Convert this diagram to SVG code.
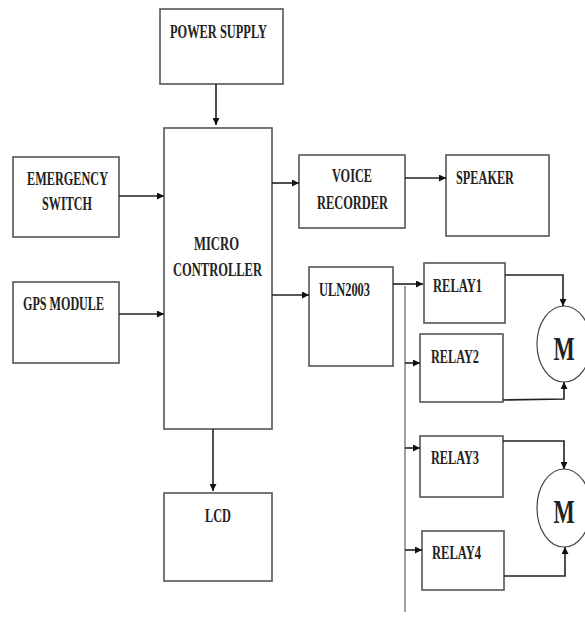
<svg xmlns="http://www.w3.org/2000/svg" width="585" height="617" viewBox="0 0 585 617">
<style>
.box{fill:#fff;stroke:#555;stroke-width:1.6}
.t{font-family:"Liberation Serif","Times New Roman",serif;font-weight:bold;font-size:18.5px;fill:#222}
.m{font-family:"Liberation Serif","Times New Roman",serif;font-weight:bold;font-size:34px;fill:#222}
.c{fill:none;stroke:#222;stroke-width:1.6}
.mot{fill:#fff;stroke:#444;stroke-width:1.2}
</style>
<defs>
<marker id="ah" viewBox="0 0 10 10" refX="10" refY="5" markerWidth="8" markerHeight="7" markerUnits="userSpaceOnUse" orient="auto">
<path d="M0,0 L10,5 L0,10 z" fill="#111"/>
</marker>
</defs>
<rect width="585" height="617" fill="#fff"/>
<g id="power-supply"><rect class="box" x="160" y="9" width="123" height="75"/><text class="t" x="170" y="38" textLength="97" lengthAdjust="spacingAndGlyphs">POWER SUPPLY</text></g>
<g id="emergency-switch"><rect class="box" x="13" y="157" width="106" height="80"/><text class="t" x="27" y="185" textLength="81" lengthAdjust="spacingAndGlyphs">EMERGENCY</text><text class="t" x="42" y="210" textLength="50" lengthAdjust="spacingAndGlyphs">SWITCH</text></g>
<g id="gps-module"><rect class="box" x="13" y="282" width="106" height="81"/><text class="t" x="23" y="310" textLength="81" lengthAdjust="spacingAndGlyphs">GPS MODULE</text></g>
<g id="micro-controller"><rect class="box" x="164" y="128" width="108" height="301"/><text class="t" x="194" y="250" textLength="45" lengthAdjust="spacingAndGlyphs">MICRO</text><text class="t" x="173" y="276" textLength="89" lengthAdjust="spacingAndGlyphs">CONTROLLER</text></g>
<g id="lcd"><rect class="box" x="164" y="493" width="108" height="88"/><text class="t" x="205" y="522" textLength="26" lengthAdjust="spacingAndGlyphs">LCD</text></g>
<g id="voice-recorder"><rect class="box" x="299" y="155" width="106" height="73"/><text class="t" x="332" y="182" textLength="40" lengthAdjust="spacingAndGlyphs">VOICE</text><text class="t" x="317" y="209" textLength="71" lengthAdjust="spacingAndGlyphs">RECORDER</text></g>
<g id="speaker"><rect class="box" x="446" y="155" width="103" height="81"/><text class="t" x="456" y="184" textLength="58" lengthAdjust="spacingAndGlyphs">SPEAKER</text></g>
<g id="uln2003"><rect class="box" x="309" y="267" width="84" height="99"/><text class="t" x="319" y="296" textLength="51" lengthAdjust="spacingAndGlyphs">ULN2003</text></g>
<g id="relay1"><rect class="box" x="424" y="263" width="81" height="60"/><text class="t" x="433" y="292" textLength="49" lengthAdjust="spacingAndGlyphs">RELAY1</text></g>
<g id="relay2"><rect class="box" x="420" y="334" width="83" height="68"/><text class="t" x="431" y="363" textLength="48" lengthAdjust="spacingAndGlyphs">RELAY2</text></g>
<g id="relay3"><rect class="box" x="420" y="436" width="83" height="61"/><text class="t" x="431" y="464" textLength="48" lengthAdjust="spacingAndGlyphs">RELAY3</text></g>
<g id="relay4"><rect class="box" x="422" y="531" width="82" height="59"/><text class="t" x="432" y="559" textLength="49" lengthAdjust="spacingAndGlyphs">RELAY4</text></g>
<g id="motor1"><ellipse class="mot" cx="564" cy="344" rx="27" ry="38"/><text class="m" text-anchor="middle" transform="translate(564,360) scale(0.66,1)">M</text></g>
<g id="motor2"><ellipse class="mot" cx="564" cy="508" rx="27" ry="39"/><text class="m" text-anchor="middle" transform="translate(564,523) scale(0.66,1)">M</text></g>
<g id="connectors">
<line class="c" x1="216" y1="84" x2="216" y2="125" marker-end="url(#ah)"/>
<line class="c" x1="119" y1="196" x2="164" y2="196" marker-end="url(#ah)"/>
<line class="c" x1="119" y1="314" x2="164" y2="314" marker-end="url(#ah)"/>
<line class="c" x1="272" y1="183" x2="299" y2="183" marker-end="url(#ah)"/>
<line class="c" x1="405" y1="178" x2="446" y2="178" marker-end="url(#ah)"/>
<line class="c" x1="272" y1="295" x2="309" y2="295" marker-end="url(#ah)"/>
<line class="c" x1="213" y1="429" x2="213" y2="491" marker-end="url(#ah)"/>
<line class="c" x1="393" y1="284" x2="423" y2="284" marker-end="url(#ah)"/>
<line x1="405" y1="286" x2="405" y2="612" stroke="#888" stroke-width="1.6"/>
<line class="c" x1="405" y1="363" x2="420" y2="363" marker-end="url(#ah)"/>
<line class="c" x1="405" y1="448" x2="420" y2="448" marker-end="url(#ah)"/>
<line class="c" x1="405" y1="550" x2="422" y2="550" marker-end="url(#ah)"/>
<polyline class="c" points="505,275 563,275 563,306" marker-end="url(#ah)"/>
<polyline class="c" points="503,400 564,399 564,382" marker-end="url(#ah)"/>
<polyline class="c" points="503,441 564,441 564,469" marker-end="url(#ah)"/>
<polyline class="c" points="504,576 565,576 565,547" marker-end="url(#ah)"/>
</g>
</svg>
